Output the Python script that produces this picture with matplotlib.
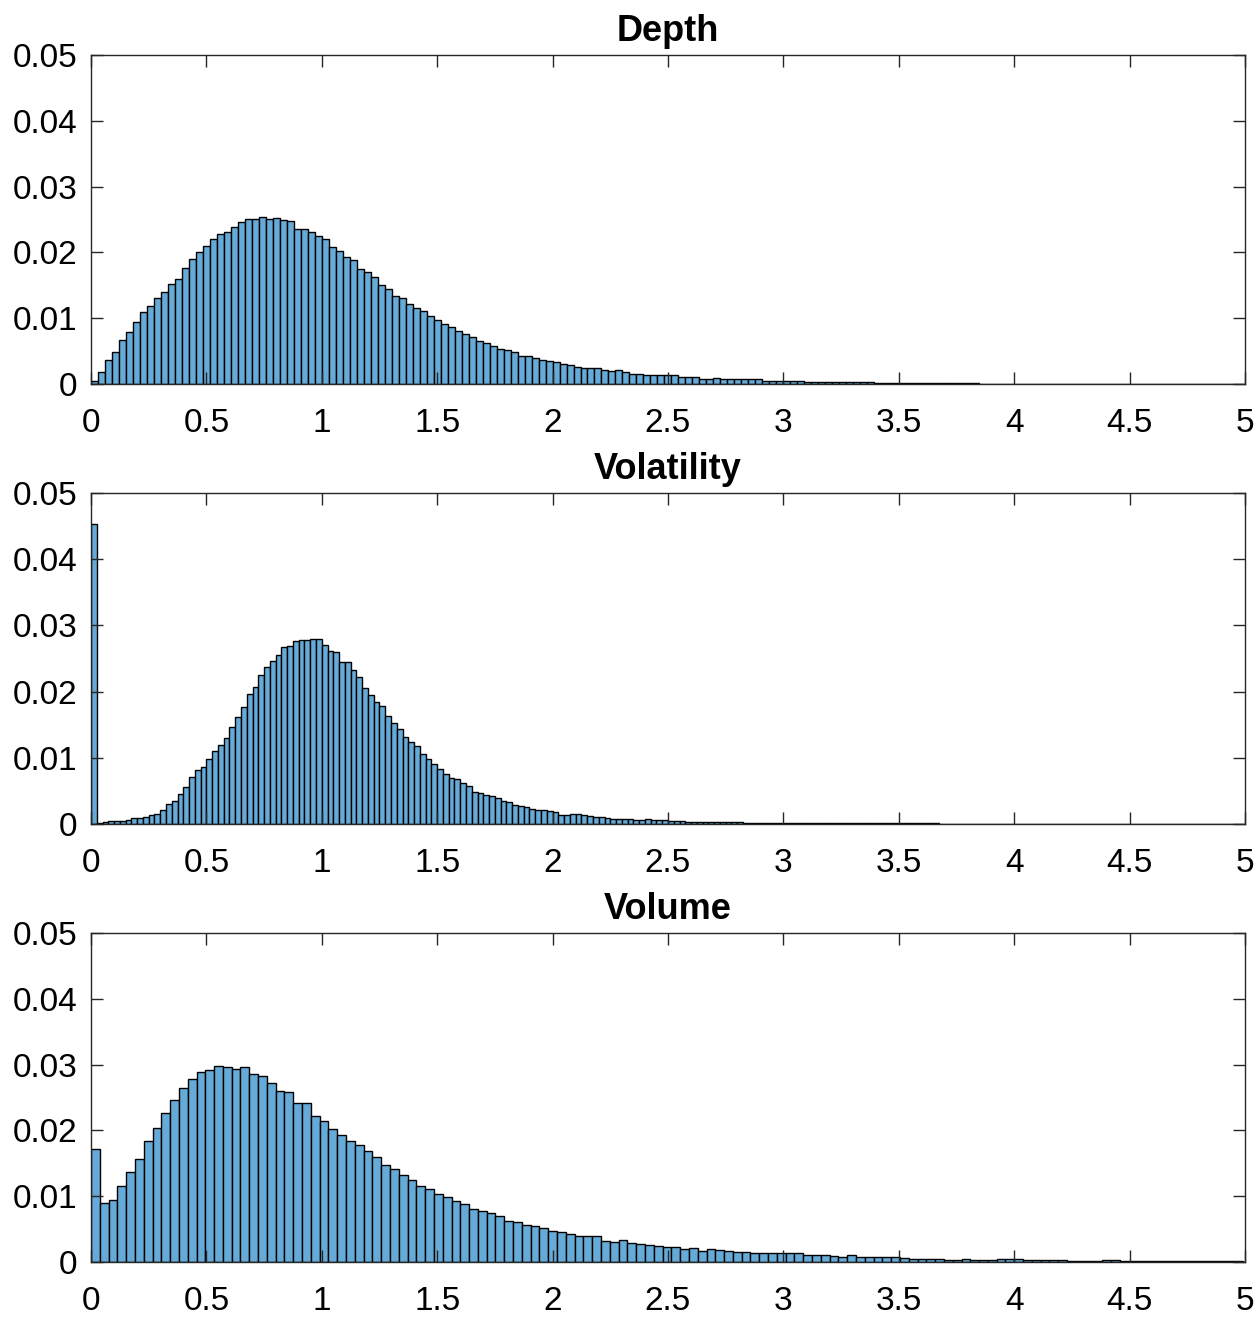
import numpy as np
import matplotlib
matplotlib.use('Agg')
import matplotlib.pyplot as plt

plt.rcParams['font.family'] = ['Liberation Sans', 'DejaVu Sans']

titles = ["Depth", "Volatility", "Volume"]
bin_widths = [0.0303, 0.025, 0.0381]

# normalised counts per bin
depth = [0.0004, 0.0018, 0.0036, 0.0048, 0.0067, 0.0079, 0.0095, 0.0109, 0.0119, 0.0131,
         0.0140, 0.0152, 0.0160, 0.0176, 0.0190, 0.0201, 0.0210, 0.0220, 0.0228, 0.0231,
         0.0239, 0.0247, 0.0251, 0.0251, 0.0254, 0.0251, 0.0253, 0.0250, 0.0248, 0.0236,
         0.0236, 0.0231, 0.0225, 0.0220, 0.0209, 0.0202, 0.0193, 0.0188, 0.0175, 0.0171,
         0.0163, 0.0151, 0.0144, 0.0134, 0.0131, 0.0121, 0.0115, 0.0111, 0.0104, 0.0098,
         0.0091, 0.0086, 0.0080, 0.0076, 0.0071, 0.0066, 0.0063, 0.0058, 0.0054, 0.0052,
         0.0049, 0.0043, 0.0042, 0.0040, 0.0036, 0.0035, 0.0033, 0.0030, 0.0029, 0.0026,
         0.0025, 0.0024, 0.0025, 0.0022, 0.0020, 0.0021, 0.0018, 0.0016, 0.0016, 0.0014,
         0.0014, 0.0014, 0.0013, 0.0013, 0.0011, 0.0011, 0.0010, 0.0008, 0.0008, 0.0009,
         0.0008, 0.0008, 0.0008, 0.0007, 0.0007, 0.0007, 0.0005, 0.0005, 0.0005, 0.0005,
         0.0005, 0.0005, 0.00035, 0.00035, 0.00035, 0.0003, 0.0003, 0.0003, 0.00025, 0.00025,
         0.00025, 0.00025, 0.0002, 0.00015, 0.0002, 0.0002, 0.00015, 0.00015, 0.00014, 0.00013,
         0.00012, 0.00012, 0.00011, 0.0001, 0.0001, 0.00009, 0.00009, 0.00008, 0.00008, 0.00007,
         0.00007, 0.00006, 0.00006, 0.00006, 0.00005, 0.00005, 0.00005, 0.00004, 0.00004, 0.00004,
         0.00004, 0.00003, 0.00003, 0.00003, 0.00003, 0.00003, 0.00002, 0.00002, 0.00002, 0.00002,
         0.00002, 0.00002, 0.00002, 0.00002, 0.00001, 0.00001, 0.00001, 0.00001, 0.00001, 0.00001,
         0.00001, 0.00001, 0.00001, 0.00001, 0.00001]

volatility = [0.0454, 0.0001, 0.00025, 0.0004, 0.0005, 0.0005, 0.00066, 0.00096, 0.00096, 0.0010,
              0.0013, 0.0015, 0.0021, 0.0031, 0.0035, 0.0045, 0.0056, 0.0071, 0.0082, 0.0086,
              0.0098, 0.0110, 0.0120, 0.0130, 0.0146, 0.0161, 0.0177, 0.0197, 0.0207, 0.0225,
              0.0237, 0.0247, 0.0256, 0.0268, 0.0269, 0.0276, 0.0278, 0.0278, 0.0280, 0.0279,
              0.0270, 0.0262, 0.0260, 0.0245, 0.0245, 0.0232, 0.0222, 0.0206, 0.0195, 0.0185,
              0.0178, 0.0163, 0.0153, 0.0143, 0.0131, 0.0124, 0.0118, 0.0106, 0.0098, 0.0091,
              0.0083, 0.0075, 0.0070, 0.0068, 0.0062, 0.0058, 0.0049, 0.0047, 0.0044, 0.0042,
              0.0039, 0.0035, 0.0033, 0.0029, 0.0028, 0.0025, 0.0023, 0.0021, 0.0021, 0.0020,
              0.0018, 0.0014, 0.0014, 0.0015, 0.0015, 0.0013, 0.0012, 0.0011, 0.0011, 0.0009,
              0.0008, 0.0008, 0.0008, 0.0007, 0.00066, 0.00066, 0.0007, 0.0006, 0.00056, 0.00056,
              0.0005, 0.00045, 0.0004, 0.00035, 0.00035, 0.00035, 0.0003, 0.0003, 0.0003, 0.0003,
              0.00025, 0.00025, 0.00024, 0.00022, 0.0002, 0.0002, 0.0002, 0.0002, 0.0002, 0.0002,
              0.00015, 0.00015, 0.00015, 0.00015, 0.00015, 0.00015, 0.00015, 0.00015, 0.00015, 0.00015,
              0.0001, 0.0001, 0.0001, 0.0001, 0.0001, 0.0001, 0.0001, 0.0001, 0.0001, 0.0001,
              0.0001, 0.0001, 0.0001, 0.0001, 0.00009, 0.00009, 0.00009, 0.00008, 0.00008, 0.00008,
              0.00008, 0.00007, 0.00007, 0.00007, 0.00007, 0.00006, 0.00006, 0.00006, 0.00006, 0.00005,
              0.00005, 0.00005, 0.00005, 0.00005, 0.00004, 0.00004, 0.00004, 0.00004, 0.00004, 0.00004,
              0.00003, 0.00003, 0.00003, 0.00003, 0.00003, 0.00003, 0.00003, 0.00003, 0.00003, 0.00002,
              0.00002, 0.00002, 0.00002, 0.00002, 0.00002, 0.00002, 0.00002, 0.00002, 0.00002, 0.00002,
              0.00002, 0.00002, 0.00002, 0.00002, 0.00002, 0.00002, 0.00002, 0.00002, 0.00002, 0.00002]

volume = [0.0172, 0.0089, 0.0094, 0.0115, 0.0137, 0.0157, 0.0184, 0.0204, 0.0227, 0.0246,
          0.0265, 0.0278, 0.0288, 0.0291, 0.0298, 0.0297, 0.0293, 0.0296, 0.0285, 0.0282,
          0.0272, 0.0260, 0.0258, 0.0241, 0.0241, 0.0222, 0.0214, 0.0202, 0.0193, 0.0184,
          0.0178, 0.0168, 0.0159, 0.0147, 0.0141, 0.0132, 0.0125, 0.0115, 0.0111, 0.0103,
          0.0098, 0.0092, 0.0088, 0.0081, 0.0078, 0.0074, 0.0070, 0.0062, 0.0060, 0.0056,
          0.0054, 0.0051, 0.0047, 0.0045, 0.0042, 0.0039, 0.0039, 0.0039, 0.0032, 0.0031,
          0.0033, 0.0029, 0.0028, 0.0026, 0.0024, 0.0023, 0.0022, 0.0020, 0.0021, 0.0017,
          0.0020, 0.0018, 0.0016, 0.0015, 0.0015, 0.0014, 0.0014, 0.0014, 0.0014, 0.0013,
          0.0013, 0.0011, 0.0010, 0.0010, 0.0009, 0.0008, 0.0010, 0.0008, 0.0007, 0.0007,
          0.0008, 0.0008, 0.0006, 0.0005, 0.0005, 0.0005, 0.0004, 0.00035, 0.00035, 0.0004,
          0.00035, 0.00035, 0.00035, 0.0004, 0.0004, 0.0004, 0.0003, 0.00035, 0.00035, 0.00035,
          0.00035, 0.0002, 0.0002, 0.0002, 0.0002, 0.00025, 0.00025, 0.00015, 0.00015, 0.00015,
          0.00015, 0.00012, 0.00012, 0.0001, 0.0001, 0.0001, 0.0001, 0.0001, 0.0001, 0.0001,
          0.0001]

series = [depth, volatility, volume]

bar_color = (0.4, 0.668, 0.845)
axis_color = (0.15, 0.15, 0.15)

fig = plt.figure(figsize=(12.57, 13.17), dpi=100)
# axes boxes in figure fractions (left, bottom, width, height)
boxes = [[0.0724, 0.7084, 0.918, 0.2498],
         [0.0724, 0.3743, 0.918, 0.2513],
         [0.0724, 0.0418, 0.918, 0.2498]]

for box, title, data, w in zip(boxes, titles, series, bin_widths):
    ax = fig.add_axes(box)
    edges = np.arange(len(data) + 1) * w
    ax.bar(edges[:-1], data, width=w, align='edge', color=bar_color,
           edgecolor='black', linewidth=1.0)
    ax.set_xlim(0, 5)
    ax.set_ylim(0, 0.05)
    ax.set_xticks(np.arange(0, 5.01, 0.5))
    ax.set_xticklabels(['0', '0.5', '1', '1.5', '2', '2.5', '3', '3.5', '4', '4.5', '5'])
    ax.set_yticks(np.arange(0, 0.051, 0.01))
    ax.set_yticklabels(['0', '0.01', '0.02', '0.03', '0.04', '0.05'])
    ax.tick_params(direction='in', top=True, right=True, length=8.5, width=1.0,
                   color=axis_color, labelcolor='black', labelsize=24)
    ax.tick_params(axis='x', pad=17)
    ax.tick_params(axis='y', pad=10)
    for s in ax.spines.values():
        s.set_color(axis_color)
        s.set_linewidth(1.0)
    ax.set_title(title, fontsize=26, fontweight='bold', pad=10)

plt.savefig('out.png', dpi=100)
